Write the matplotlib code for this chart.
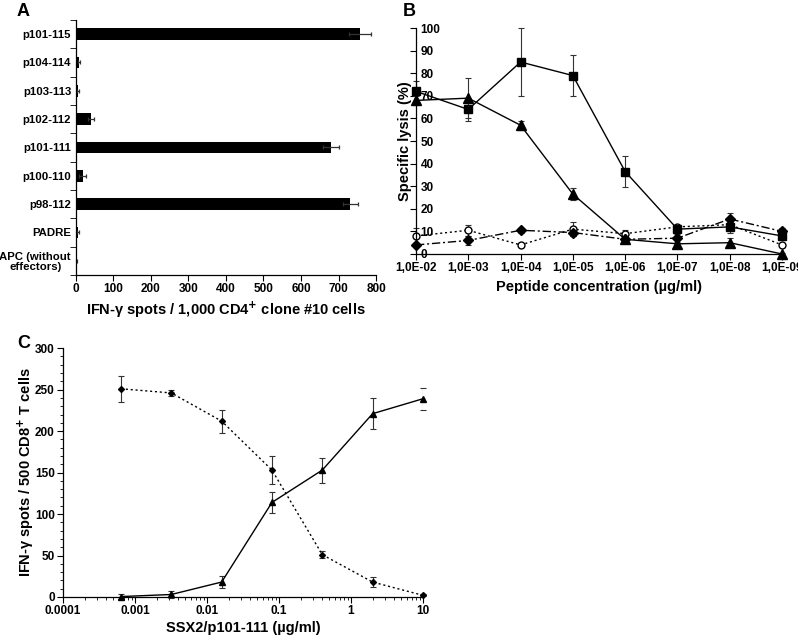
import numpy as np
import matplotlib
matplotlib.use("Agg")
import matplotlib.pyplot as plt
from matplotlib.ticker import MultipleLocator, LogLocator, NullFormatter, FixedLocator

plt.rcParams['font.family'] = ['Liberation Sans', 'DejaVu Sans']
plt.rcParams['font.weight'] = 'bold'
plt.rcParams['axes.labelweight'] = 'bold'
plt.rcParams['axes.linewidth'] = 0.9

# panel A
pep_labels = ['p101-115', 'p104-114', 'p103-113', 'p102-112', 'p101-111',
              'p100-110', 'p98-112', 'PADRE', 'APC (without\neffectors)']
pep_spots = [757, 8, 5, 40, 680, 18, 731, 5, 2]
pep_err = [29, 3, 2, 7, 22, 9, 20, 2, 1]

# panel B
conc_labels = ['1,0E-02', '1,0E-03', '1,0E-04', '1,0E-05',
               '1,0E-06', '1,0E-07', '1,0E-08', '1,0E-09']
sq_lysis = [72, 64, 85, 79, 36.5, 11, 12, 8]
sq_err = [4.5, 5, 15, 9, 7, 1.5, 2.5, 2]
tri_lysis = [68, 69, 57, 26.5, 6.5, 4.5, 5, 0]
tri_err = [2, 9, 2, 2.5, 1, 1, 2, 0.5]
circ_lysis = [8, 10.5, 4, 11, 9, 12, 13, 4]
circ_err = [3.5, 2.5, 1, 3, 1.5, 1, 1, 1]
dia_lysis = [4, 6, 10.5, 9.5, 6.5, 7, 15.5, 10]
dia_err = [1, 2, 1, 1.5, 1, 2, 2.5, 1.5]

# panel C
ssx_conc = [0.00064, 0.0032, 0.016, 0.08, 0.4, 2, 10]
dot_spots = [251, 246, 212, 153, 51, 18, 2]
dot_err = [16, 4, 14, 17, 4.5, 6, 1]
tri_spots = [0.5, 3, 18, 114, 153, 221, 239]
tri_spots_err = [3, 4, 7, 13, 15, 19, 13]

TICK = 8.5
LAB = 10.5

fig = plt.figure(figsize=(7.98, 6.38), dpi=100)

# ---- A ----
axA = fig.add_axes([0.0952, 0.569, 0.376, 0.3997])
ypos = np.arange(len(pep_labels))
axA.barh(ypos, pep_spots, height=0.42, color='black', xerr=pep_err,
         error_kw=dict(ecolor='#333333', elinewidth=0.9, capsize=1.5, capthick=0.9))
axA.set_ylim(8.5, -0.5)
axA.set_xlim(0, 800)
axA.set_xticks(range(0, 801, 100))
axA.set_yticks(ypos)
axA.set_yticklabels(pep_labels, fontsize=8.2, fontweight='bold', linespacing=1.0,
                    multialignment='center')
axA.yaxis.set_minor_locator(FixedLocator(np.arange(-0.5, 9, 1)))
axA.tick_params(axis='y', which='major', length=0, pad=3.5)
axA.tick_params(axis='y', which='minor', length=4, direction='out')
axA.tick_params(axis='x', length=4, direction='out', labelsize=TICK, pad=2)
for s in ['top', 'right']:
    axA.spines[s].set_visible(False)
axA.set_xlabel('IFN-γ spots / 1,000 CD4$^{\\mathbf{+}}$ clone #10 cells', fontsize=LAB, labelpad=3)
for lab in axA.get_xticklabels():
    lab.set_fontweight('bold')
fig.text(0.021, 0.982, 'A', fontsize=13, fontweight='bold', va='center')

# ---- B ----
axB = fig.add_axes([0.5213, 0.6019, 0.4587, 0.354])
xb = np.arange(len(conc_labels))
ekw = dict(elinewidth=0.8, capsize=2, capthick=0.8, ecolor='#333333', clip_on=False)
axB.errorbar(xb, circ_lysis, yerr=circ_err, color='black', linestyle=(0, (1.5, 2)), lw=1,
             marker='o', mfc='white', mec='black', ms=5, **ekw)
axB.errorbar(xb, dia_lysis, yerr=dia_err, color='black', linestyle=(0, (6, 2, 1.5, 2)), lw=1,
             marker='D', ms=5, mfc='black', mec='black', **ekw)
axB.errorbar(xb, tri_lysis, yerr=tri_err, color='black', linestyle='-', lw=1,
             marker='^', ms=6.5, mfc='black', mec='black', **ekw)
axB.errorbar(xb, sq_lysis, yerr=sq_err, color='black', linestyle='-', lw=1,
             marker='s', ms=6, mfc='black', mec='black', **ekw)
for ln in axB.lines:
    ln.set_clip_on(False)
axB.set_xlim(0, 7)
axB.set_ylim(0, 100)
axB.set_xticks(xb)
axB.set_xticklabels(conc_labels, fontsize=TICK, fontweight='bold')
axB.set_yticks(range(0, 101, 10))
axB.tick_params(axis='y', length=4, direction='out', labelsize=TICK, pad=2)
axB.tick_params(axis='x', length=4, direction='out', pad=2)
for lab in axB.get_yticklabels():
    lab.set_fontweight('bold')
    lab.set_horizontalalignment('left')
    lab.set_x(0.035)
for s in ['top', 'right']:
    axB.spines[s].set_visible(False)
axB.set_ylabel('Specific lysis (%)', fontsize=LAB)
axB.yaxis.set_label_coords(-0.012, 0.5)
axB.set_xlabel('Peptide concentration (µg/ml)', fontsize=LAB, labelpad=4)
fig.text(0.505, 0.982, 'B', fontsize=13, fontweight='bold', va='center')

# ---- C ----
axC = fig.add_axes([0.0789, 0.0643, 0.4511, 0.390])
ekc = dict(elinewidth=0.8, capsize=2.5, capthick=0.8, ecolor='#333333')
axC.errorbar(ssx_conc, dot_spots, yerr=dot_err, color='black', linestyle=(0, (1.5, 2)), lw=1,
             marker='D', ms=3, **ekc)
axC.errorbar(ssx_conc, tri_spots, yerr=tri_spots_err, color='black', linestyle='-', lw=1,
             marker='^', ms=4, **ekc)
for ln in axC.lines:
    ln.set_clip_on(False)
axC.set_xscale('log')
axC.set_xlim(0.0001, 10)
axC.set_ylim(0, 300)
axC.set_xticks([0.0001, 0.001, 0.01, 0.1, 1, 10])
axC.set_xticklabels(['0.0001', '0.001', '0.01', '0.1', '1', '10'], fontsize=TICK, fontweight='bold')
axC.xaxis.set_minor_locator(LogLocator(base=10, subs=np.arange(2, 10), numticks=20))
axC.xaxis.set_minor_formatter(NullFormatter())
axC.set_yticks(range(0, 301, 50))
axC.yaxis.set_minor_locator(MultipleLocator(10))
axC.tick_params(axis='both', which='major', length=4, direction='out', labelsize=TICK, pad=2)
axC.tick_params(axis='both', which='minor', length=2.5, direction='out')
for lab in axC.get_yticklabels():
    lab.set_fontweight('bold')
for s in ['top', 'right']:
    axC.spines[s].set_visible(False)
axC.set_ylabel('IFN-γ spots / 500 CD8$^{\\mathbf{+}}$ T cells', fontsize=LAB)
axC.yaxis.set_label_coords(-0.075, 0.5)
axC.set_xlabel('SSX2/p101-111 (µg/ml)', fontsize=LAB, labelpad=3)
fig.text(0.022, 0.462, 'C', fontsize=13, fontweight='bold', va='center')

fig.savefig('out.png', dpi=100)
